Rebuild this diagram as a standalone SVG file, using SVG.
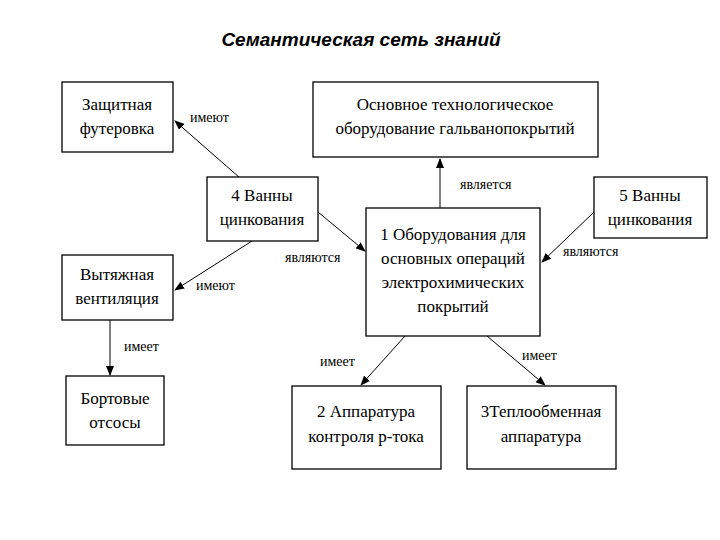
<svg xmlns="http://www.w3.org/2000/svg" width="720" height="540" viewBox="0 0 720 540">
<defs>
<marker id="ah" markerWidth="10" markerHeight="8" refX="9" refY="4" orient="auto" markerUnits="userSpaceOnUse">
<path d="M0,0 L10,4 L0,8 Z" fill="#000"/>
</marker>
<style>
.box{fill:#fff;stroke:#000;stroke-width:1.3}
.t{font-family:'Liberation Serif','DejaVu Serif',serif;font-size:17px;text-anchor:middle;fill:#000}
.l{font-family:'Liberation Serif','DejaVu Serif',serif;font-size:14px;fill:#000}
.c{stroke:#000;stroke-width:1;fill:none;marker-end:url(#ah)}
</style>
</defs>
<rect width="720" height="540" fill="#fff"/>
<text x="361" y="46" font-family="'Liberation Sans',sans-serif" font-size="19" font-style="italic" font-weight="bold" text-anchor="middle">Семантическая сеть знаний</text>
<g id="connectors">
<line class="c" x1="240" y1="178" x2="175" y2="121"/>
<line class="c" x1="318" y1="212" x2="365" y2="251"/>
<line class="c" x1="440" y1="208" x2="440" y2="159"/>
<line class="c" x1="594" y1="212" x2="542" y2="262"/>
<line class="c" x1="252" y1="241" x2="175" y2="290"/>
<line class="c" x1="110" y1="320" x2="110" y2="375"/>
<line class="c" x1="405" y1="336" x2="361" y2="385"/>
<line class="c" x1="487" y1="336" x2="545" y2="385"/>
<text class="l" x="190" y="122">имеют</text>
<text class="l" x="285" y="262">являются</text>
<text class="l" x="460" y="189">является</text>
<text class="l" x="563" y="256">являются</text>
<text class="l" x="196" y="290">имеют</text>
<text class="l" x="124" y="351">имеет</text>
<text class="l" x="320" y="366">имеет</text>
<text class="l" x="522" y="360">имеет</text>
</g>
<g id="n-zaschit"><rect class="box" x="62" y="82" width="111" height="70"/><text class="t" x="117" y="110">Защитная</text><text class="t" x="117" y="134">футеровка</text></g>
<g id="n-osnovnoe"><rect class="box" x="313" y="82" width="285" height="75"/><text class="t" x="455" y="110">Основное технологическое</text><text class="t" x="455" y="134">оборудование гальванопокрытий</text></g>
<g id="n-4"><rect class="box" x="207" y="177" width="111" height="64"/><text class="t" x="262" y="201">4 Ванны</text><text class="t" x="262" y="225">цинкования</text></g>
<g id="n-5"><rect class="box" x="594" y="177" width="113" height="61"/><text class="t" x="650" y="201">5 Ванны</text><text class="t" x="650" y="225">цинкования</text></g>
<g id="n-1"><rect class="box" x="366" y="208" width="174" height="128"/><text class="t" x="453" y="240">1 Оборудования для</text><text class="t" x="453" y="264">основных операций</text><text class="t" x="453" y="288">электрохимических</text><text class="t" x="453" y="312">покрытий</text></g>
<g id="n-vyt"><rect class="box" x="62" y="255" width="111" height="65"/><text class="t" x="117" y="280">Вытяжная</text><text class="t" x="117" y="304">вентиляция</text></g>
<g id="n-bort"><rect class="box" x="66" y="376" width="98" height="69"/><text class="t" x="115" y="404">Бортовые</text><text class="t" x="115" y="428">отсосы</text></g>
<g id="n-2"><rect class="box" x="292" y="386" width="149" height="83"/><text class="t" x="366" y="417">2 Аппаратура</text><text class="t" x="366" y="442">контроля р-тока</text></g>
<g id="n-3"><rect class="box" x="467" y="386" width="149" height="83"/><text class="t" x="541" y="417">3Теплообменная</text><text class="t" x="541" y="442">аппаратура</text></g>
</svg>
